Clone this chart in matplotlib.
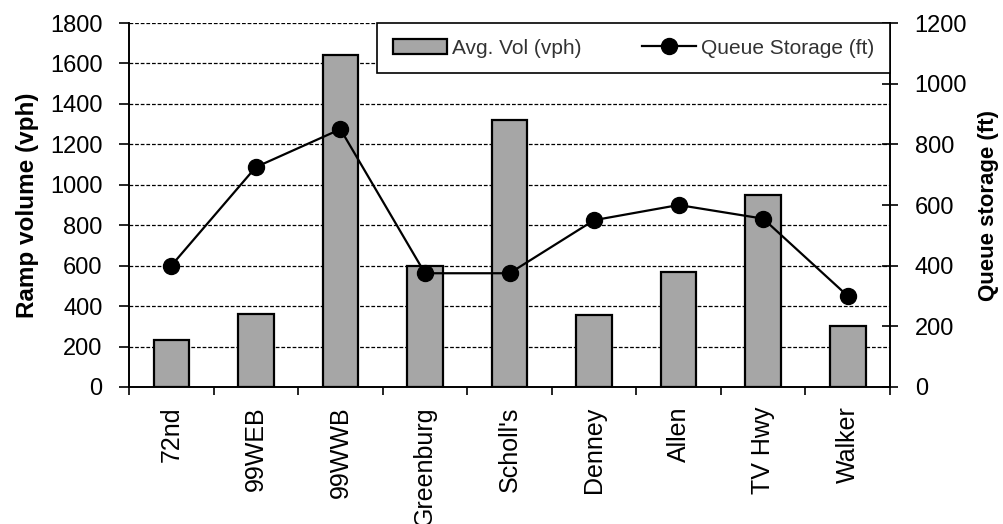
import matplotlib
matplotlib.use("Agg")
import matplotlib.pyplot as plt
import numpy as np

plt.rcParams['font.family'] = ['Liberation Sans', 'DejaVu Sans']

ramps = ["72nd", "99WEB", "99WWB", "Greenburg", "Scholl's", "Denney", "Allen", "TV Hwy", "Walker"]
avg_vol = [230, 360, 1640, 600, 1320, 355, 570, 950, 300]
queue_storage = [400, 725, 850, 375, 375, 550, 600, 555, 300]

fig = plt.figure(figsize=(10.04, 5.24), dpi=100)
ax = fig.add_axes([0.1285, 0.2615, 0.758, 0.6945])
ax2 = ax.twinx()

x = np.arange(len(ramps))
bars = ax.bar(x, avg_vol, width=0.42, color="#a6a6a6", edgecolor="black", linewidth=1.6,
              label="Avg. Vol (vph)")
line, = ax2.plot(x, queue_storage, color="black", linewidth=1.6, marker="o", markersize=11.5,
                 label="Queue Storage (ft)")

ax.set_xlim(-0.5, len(ramps) - 0.5)
ax.set_ylim(0, 1800)
ax.set_yticks(np.arange(0, 1801, 200))
ax2.set_ylim(0, 1200)
ax2.set_yticks(np.arange(0, 1201, 200))

# ticks sit on the category boundaries, labels in the middle
ax.set_xticks(np.arange(-0.5, len(ramps), 1.0))
ax.set_xticklabels([])
ax.set_xticks(x, minor=True)
ax.set_xticklabels(ramps, minor=True, rotation=90, fontsize=18)
ax.tick_params(axis="x", which="minor", length=0, pad=14)
ax.tick_params(axis="x", which="major", length=6, width=1.2, direction="out")

ax.yaxis.grid(True, linestyle=(0, (3, 1.5)), color="black", linewidth=0.9)
ax.set_axisbelow(True)
ax.tick_params(axis="y", labelsize=17, length=7, width=1.2, direction="out", pad=12)
ax2.tick_params(axis="y", labelsize=17, length=11.5, width=1.2, direction="inout", pad=12)

for a in (ax, ax2):
    a.spines["top"].set_visible(False)
    for s in ("left", "right", "bottom"):
        a.spines[s].set_linewidth(1.2)

ax.set_ylabel("Ramp volume (vph)", fontsize=17.5, fontweight="bold", labelpad=8)
ax2.set_ylabel("Queue storage (ft)", fontsize=16, fontweight="bold", labelpad=8)
ax2.yaxis.set_label_position("right")

leg = ax2.legend([bars, line], ["Avg. Vol (vph)", "Queue Storage (ft)"],
                 loc="upper right", ncol=2, fontsize=15, frameon=True, fancybox=False,
                 edgecolor="black", framealpha=1.0, borderaxespad=0, handlelength=2.6,
                 handletextpad=0.25, columnspacing=2.9, borderpad=0.75)
leg.get_frame().set_linewidth(1.2)
for t in leg.get_texts():
    t.set_color("#333333")

fig.savefig("out.png", dpi=100)
